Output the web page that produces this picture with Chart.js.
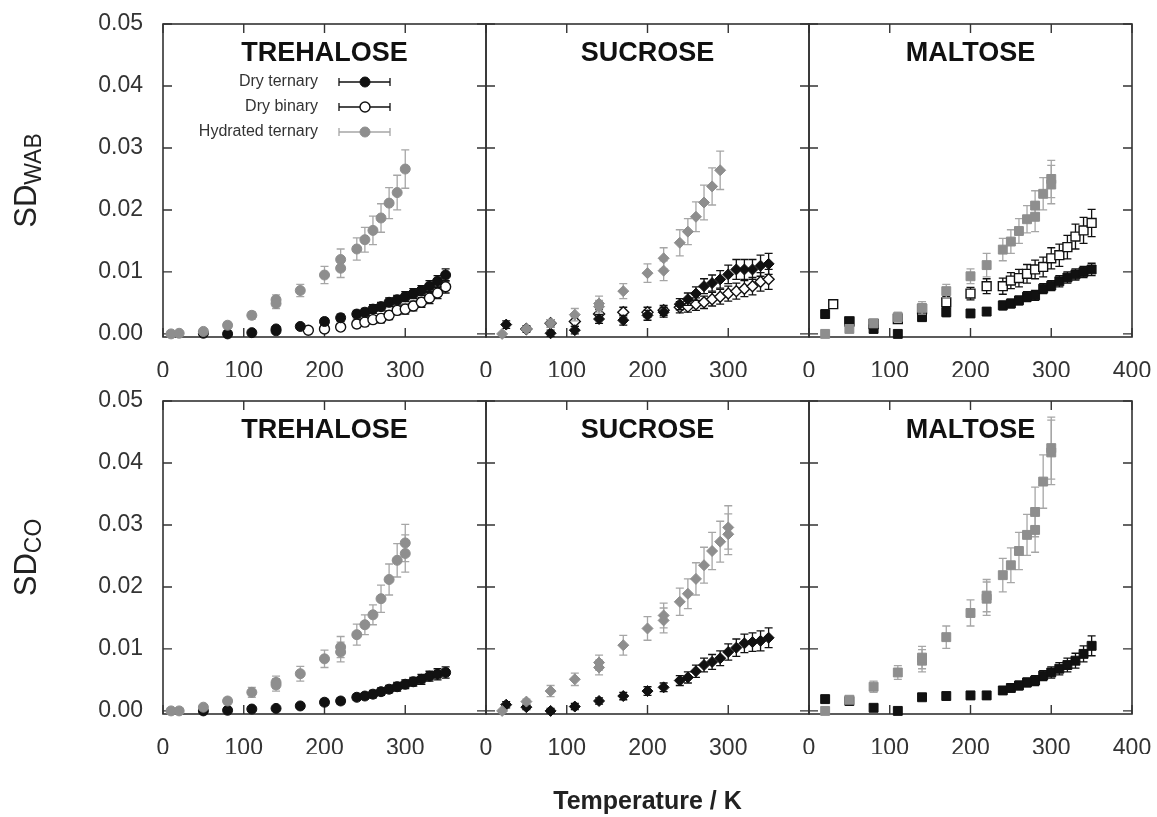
<!DOCTYPE html>
<html><head><meta charset="utf-8">
<script src="https://cdn.jsdelivr.net/npm/chart.js@4.4.1/dist/chart.umd.min.js"></script>
<style>
html,body{margin:0;padding:0;background:#fff;}
#wrap{position:relative;width:1157px;height:817px;overflow:hidden;background:#fff;}
#wrap canvas{position:absolute;left:0;top:0;}
</style></head><body>
<div id="wrap">
<canvas id="p0" width="1157" height="817"></canvas>
<canvas id="p1" width="1157" height="817"></canvas>
<canvas id="p2" width="1157" height="817"></canvas>
<canvas id="p3" width="1157" height="817"></canvas>
<canvas id="p4" width="1157" height="817"></canvas>
<canvas id="p5" width="1157" height="817"></canvas>
</div>
<script>
// ---------- tick values and labels ----------
const xTickValues = [0, 100, 200, 300, 400];
const yTickValues = [0, 0.01, 0.02, 0.03, 0.04, 0.05];
const sugarNames = ['TREHALOSE', 'SUCROSE', 'MALTOSE'];
const seriesNames = ['Dry ternary', 'Dry binary', 'Hydrated ternary'];
const rowTitles = [['SD', 'WAB'], ['SD', 'CO']];
const xAxisTitle = 'Temperature / K';

// ---------- SD_WAB, trehalose ----------
const tTreWabHyd = [10,20,50,80,110,140,140,170,200,220,220,240,250,260,270,280,290,300];
const treWabHyd = [0.0000,0.0001,0.0004,0.0014,0.0030,0.0055,0.0049,0.0070,0.0095,0.0120,0.0106,0.0137,0.0152,0.0167,0.0187,0.0211,0.0228,0.0266];
const treWabHydErr = [0.0002,0.0002,0.0004,0.0005,0.0006,0.0008,0.0008,0.0010,0.0014,0.0017,0.0015,0.0018,0.0020,0.0023,0.0023,0.0025,0.0028,0.0031];
const tTreWabDry = [50,80,110,140,140,170,200,220,240,250,260,270,280,290,300,310,320,330,340,350];
const treWabDry = [0.0001,0.0000,0.0002,0.0005,0.0008,0.0012,0.0020,0.0026,0.0032,0.0035,0.0040,0.0044,0.0051,0.0055,0.0060,0.0065,0.0070,0.0077,0.0085,0.0095];
const treWabDryErr = [0.0002,0.0002,0.0003,0.0004,0.0004,0.0004,0.0005,0.0006,0.0006,0.0006,0.0007,0.0007,0.0007,0.0007,0.0008,0.0008,0.0008,0.0009,0.0009,0.0010];
const tTreWabBin = [180,200,220,240,250,260,270,280,290,300,310,320,330,340,350];
const treWabBin = [0.0006,0.0008,0.0011,0.0016,0.0019,0.0023,0.0025,0.0030,0.0038,0.0040,0.0045,0.0051,0.0058,0.0066,0.0076];
const treWabBinErr = [0.0004,0.0005,0.0005,0.0006,0.0006,0.0006,0.0007,0.0007,0.0007,0.0008,0.0008,0.0008,0.0009,0.0009,0.0010];

// ---------- SD_WAB, sucrose ----------
const tSucWabHyd = [20,50,80,110,140,140,170,200,220,220,240,250,260,270,280,290];
const sucWabHyd = [0.0000,0.0008,0.0017,0.0031,0.0049,0.0044,0.0069,0.0098,0.0122,0.0102,0.0147,0.0165,0.0189,0.0212,0.0238,0.0264];
const sucWabHydErr = [0.0002,0.0004,0.0006,0.0010,0.0012,0.0010,0.0012,0.0015,0.0017,0.0016,0.0021,0.0021,0.0024,0.0028,0.0030,0.0031];
const tSucWabDry = [25,50,80,110,140,170,200,220,240,250,260,270,280,290,300,310,320,330,340,350];
const sucWabDry = [0.0015,0.0008,0.0001,0.0006,0.0024,0.0022,0.0030,0.0035,0.0048,0.0056,0.0065,0.0077,0.0082,0.0088,0.0096,0.0104,0.0104,0.0104,0.0110,0.0113];
const sucWabDryErr = [0.0006,0.0005,0.0005,0.0006,0.0007,0.0008,0.0008,0.0008,0.0009,0.0010,0.0011,0.0012,0.0013,0.0014,0.0015,0.0016,0.0016,0.0016,0.0017,0.0017];
const tSucWabBin = [50,80,110,140,170,200,220,240,250,260,270,280,290,300,310,320,330,340,350];
const sucWabBin = [0.0008,0.0017,0.0020,0.0032,0.0035,0.0035,0.0038,0.0043,0.0044,0.0048,0.0051,0.0056,0.0060,0.0065,0.0069,0.0073,0.0077,0.0084,0.0088];
const sucWabBinErr = [0.0004,0.0006,0.0008,0.0008,0.0008,0.0008,0.0008,0.0009,0.0009,0.0010,0.0010,0.0011,0.0012,0.0012,0.0013,0.0013,0.0014,0.0015,0.0016];

// ---------- SD_WAB, maltose ----------
const tMalWabHyd = [20,50,80,110,140,170,200,220,240,250,260,270,280,280,290,300,300];
const malWabHyd = [0.0000,0.0008,0.0017,0.0027,0.0042,0.0069,0.0093,0.0111,0.0136,0.0149,0.0166,0.0185,0.0189,0.0207,0.0226,0.0241,0.0250];
const malWabHydErr = [0.0002,0.0004,0.0006,0.0008,0.0010,0.0011,0.0012,0.0019,0.0018,0.0019,0.0020,0.0022,0.0024,0.0024,0.0026,0.0031,0.0030];
const tMalWabDry = [20,50,80,110,140,170,200,220,240,250,260,270,280,290,300,310,320,330,340,350];
const malWabDry = [0.0032,0.0020,0.0008,0.0000,0.0027,0.0035,0.0033,0.0036,0.0046,0.0049,0.0054,0.0060,0.0062,0.0073,0.0078,0.0085,0.0091,0.0096,0.0100,0.0104];
const malWabDryErr = [0.0006,0.0006,0.0006,0.0005,0.0006,0.0007,0.0006,0.0006,0.0007,0.0007,0.0007,0.0008,0.0008,0.0008,0.0008,0.0009,0.0009,0.0009,0.0009,0.0010];
const tMalWabBin = [30,50,80,110,140,170,200,220,240,250,260,270,280,290,300,310,320,330,340,350];
const malWabBin = [0.0048,0.0020,0.0016,0.0024,0.0040,0.0051,0.0065,0.0077,0.0077,0.0086,0.0090,0.0097,0.0104,0.0108,0.0122,0.0127,0.0140,0.0157,0.0167,0.0179];
const malWabBinErr = [0.0005,0.0006,0.0006,0.0007,0.0008,0.0009,0.0010,0.0012,0.0013,0.0013,0.0014,0.0015,0.0015,0.0016,0.0017,0.0018,0.0019,0.0020,0.0021,0.0022];

// ---------- SD_CO, trehalose ----------
const tTreCoHyd = [10,20,50,80,110,140,140,170,200,220,220,240,250,260,270,280,290,300,300];
const treCoHyd = [0.0000,0.0000,0.0006,0.0016,0.0030,0.0046,0.0042,0.0060,0.0084,0.0103,0.0095,0.0123,0.0139,0.0155,0.0181,0.0212,0.0243,0.0271,0.0254];
const treCoHydErr = [0.0002,0.0002,0.0004,0.0005,0.0008,0.0010,0.0010,0.0012,0.0014,0.0017,0.0016,0.0017,0.0016,0.0016,0.0022,0.0025,0.0027,0.0030,0.0030];
const tTreCoDry = [50,80,110,140,170,200,220,240,250,260,270,280,290,300,310,320,330,340,350];
const treCoDry = [0.0000,0.0001,0.0003,0.0004,0.0008,0.0014,0.0016,0.0022,0.0024,0.0027,0.0031,0.0035,0.0039,0.0043,0.0047,0.0051,0.0056,0.0059,0.0062];
const treCoDryErr = [0.0002,0.0002,0.0003,0.0003,0.0004,0.0005,0.0005,0.0005,0.0005,0.0006,0.0006,0.0006,0.0007,0.0007,0.0007,0.0008,0.0008,0.0009,0.0009];

// ---------- SD_CO, sucrose ----------
const tSucCoHyd = [20,50,80,110,140,140,170,200,220,220,240,250,260,270,280,290,300,300];
const sucCoHyd = [0.0000,0.0015,0.0032,0.0051,0.0070,0.0078,0.0106,0.0133,0.0146,0.0154,0.0176,0.0189,0.0213,0.0235,0.0258,0.0273,0.0285,0.0296];
const sucCoHydErr = [0.0002,0.0004,0.0009,0.0010,0.0012,0.0012,0.0016,0.0019,0.0020,0.0020,0.0022,0.0024,0.0026,0.0029,0.0030,0.0033,0.0033,0.0035];
const tSucCoDry = [25,50,80,110,140,170,200,220,240,250,260,270,280,290,300,310,320,330,340,350];
const sucCoDry = [0.0010,0.0006,0.0000,0.0007,0.0016,0.0024,0.0032,0.0038,0.0049,0.0054,0.0064,0.0074,0.0079,0.0085,0.0095,0.0102,0.0109,0.0111,0.0113,0.0118];
const sucCoDryErr = [0.0005,0.0004,0.0004,0.0005,0.0005,0.0006,0.0007,0.0007,0.0008,0.0009,0.0010,0.0011,0.0012,0.0012,0.0013,0.0014,0.0015,0.0015,0.0016,0.0016];

// ---------- SD_CO, maltose ----------
const tMalCoHyd = [20,50,80,110,140,140,170,200,220,220,240,250,260,270,280,280,290,300,300];
const malCoHyd = [0.0000,0.0018,0.0039,0.0062,0.0081,0.0086,0.0119,0.0158,0.0181,0.0186,0.0219,0.0235,0.0258,0.0284,0.0292,0.0321,0.0370,0.0417,0.0424];
const malCoHydErr = [0.0002,0.0005,0.0009,0.0011,0.0018,0.0018,0.0018,0.0021,0.0027,0.0026,0.0027,0.0028,0.0030,0.0033,0.0036,0.0040,0.0043,0.0052,0.0050];
const tMalCoDry = [20,50,80,110,140,170,200,220,240,250,260,270,280,290,300,310,320,330,340,350];
const malCoDry = [0.0019,0.0016,0.0005,0.0000,0.0022,0.0024,0.0025,0.0025,0.0033,0.0037,0.0041,0.0046,0.0049,0.0057,0.0062,0.0068,0.0074,0.0081,0.0092,0.0105];
const malCoDryErr = [0.0005,0.0004,0.0005,0.0004,0.0005,0.0005,0.0006,0.0006,0.0006,0.0006,0.0007,0.0007,0.0008,0.0008,0.0009,0.0010,0.0011,0.0012,0.0013,0.0016];

// ---------- layout / styles ----------
const FONT = '"Liberation Sans", Arial, Helvetica, sans-serif';
Chart.defaults.font.family = FONT;
const COLS = [163, 486, 809, 1132];
const ROWS = [[24, 337], [401, 714]];
const W = 1157, H = 817;
const MARK = [
  { pointStyle: 'circle', radius: 5 },
  { pointStyle: 'rectRot', radius: 5.5 },
  { pointStyle: 'rect', radius: 6.3 }
];
const STY = {
  dry: { fill: '#111111', stroke: '#111111', err: '#111111', bw: 1 },
  bin: { fill: '#ffffff', stroke: '#111111', err: '#111111', bw: 1.4 },
  hyd: { fill: '#8e8e8e', stroke: '#8e8e8e', err: '#a6a6a6', bw: 1 }
};

function makeSet(label, kind, col, ts, vs, es) {
  const s = STY[kind];
  return {
    label: label,
    data: ts.map((t, i) => ({ x: t, y: vs[i] })),
    errors: es,
    errColor: s.err,
    pointStyle: MARK[col].pointStyle,
    pointRadius: MARK[col].radius,
    pointBackgroundColor: s.fill,
    pointBorderColor: s.stroke,
    pointBorderWidth: s.bw,
    showLine: false,
    clip: false
  };
}

function noPad(s) {
  s.paddingLeft = 0; s.paddingRight = 0; s.paddingTop = 0; s.paddingBottom = 0;
}

const errPlugin = {
  id: 'errbars',
  beforeDatasetDraw(chart, args) {
    const ds = chart.data.datasets[args.index];
    if (!ds.errors) return;
    const ys = chart.scales.y, ctx = chart.ctx, a = chart.chartArea;
    ctx.save();
    ctx.beginPath();
    ctx.rect(a.left - 10, a.top, a.right - a.left + 20, a.bottom - a.top);
    ctx.clip();
    ctx.strokeStyle = ds.errColor;
    ctx.lineWidth = 1.3;
    const c = 4;
    args.meta.data.forEach((pt, i) => {
      const v = ds.data[i].y, e = ds.errors[i];
      const y1 = ys.getPixelForValue(v + e), y2 = ys.getPixelForValue(v - e);
      const x = pt.x;
      ctx.beginPath();
      ctx.moveTo(x, y1); ctx.lineTo(x, y2);
      ctx.moveTo(x - c, y1); ctx.lineTo(x + c, y1);
      ctx.moveTo(x - c, y2); ctx.lineTo(x + c, y2);
      ctx.stroke();
    });
    ctx.restore();
  }
};

const framePlugin = {
  id: 'frame',
  beforeDatasetsDraw(chart) {
    const { ctx, chartArea: a } = chart;
    const xs = chart.scales.x, ys = chart.scales.y;
    ctx.save();
    ctx.strokeStyle = '#333333';
    ctx.lineWidth = 1.6;
    ctx.strokeRect(a.left, a.top, a.right - a.left, a.bottom - a.top);
    const tl = 9;
    ctx.lineWidth = 1.4;
    ctx.beginPath();
    xs.ticks.forEach(t => {
      const px = xs.getPixelForValue(t.value);
      ctx.moveTo(px, a.bottom); ctx.lineTo(px, a.bottom - tl);
      ctx.moveTo(px, a.top); ctx.lineTo(px, a.top + tl);
    });
    ys.ticks.forEach(t => {
      const py = ys.getPixelForValue(t.value);
      ctx.moveTo(a.left, py); ctx.lineTo(a.left + tl, py);
      ctx.moveTo(a.right, py); ctx.lineTo(a.right - tl, py);
    });
    ctx.stroke();
    ctx.restore();
  }
};

const textPlugin = {
  id: 'paneltext',
  afterDraw(chart, args, opts) {
    const { ctx, chartArea: a } = chart;
    ctx.save();
    // panel title
    ctx.fillStyle = '#111111';
    ctx.font = 'bold 27px ' + FONT;
    ctx.textAlign = 'center';
    ctx.textBaseline = 'middle';
    ctx.fillText(opts.title, (a.left + a.right) / 2, a.top + 30);
    // row title with subscript
    if (opts.rowTitle) {
      const cy = (a.top + a.bottom) / 2;
      const bx = a.left - 127;
      ctx.translate(bx, cy);
      ctx.rotate(-Math.PI / 2);
      ctx.textAlign = 'left';
      ctx.textBaseline = 'alphabetic';
      ctx.fillStyle = '#222222';
      ctx.font = '31px ' + FONT;
      const w1 = ctx.measureText(opts.rowTitle[0]).width;
      ctx.font = '23px ' + FONT;
      const w2 = ctx.measureText(opts.rowTitle[1]).width;
      const s = -(w1 + w2) / 2;
      ctx.font = '31px ' + FONT;
      ctx.fillText(opts.rowTitle[0], s, 0);
      ctx.font = '23px ' + FONT;
      ctx.fillText(opts.rowTitle[1], s + w1, 5);
      ctx.setTransform(1, 0, 0, 1, 0, 0);
    }
    // legend
    if (opts.legend) {
      const items = chart.data.datasets;
      const order = [1, 2, 0];
      order.forEach((di, row) => {
        const ds = items[di];
        const y = a.top + 58 + row * 25;
        ctx.fillStyle = '#333333';
        ctx.font = '16px ' + FONT;
        ctx.textAlign = 'right';
        ctx.textBaseline = 'middle';
        ctx.fillText(ds.label, a.left + 155, y);
        const x1 = a.left + 176, x2 = a.left + 227, xm = a.left + 202;
        ctx.strokeStyle = ds.errColor;
        ctx.lineWidth = 1.3;
        ctx.beginPath();
        ctx.moveTo(x1, y); ctx.lineTo(x2, y);
        ctx.moveTo(x1, y - 4); ctx.lineTo(x1, y + 4);
        ctx.moveTo(x2, y - 4); ctx.lineTo(x2, y + 4);
        ctx.stroke();
        ctx.fillStyle = ds.pointBackgroundColor;
        ctx.strokeStyle = ds.pointBorderColor;
        ctx.lineWidth = ds.pointBorderWidth;
        Chart.helpers.drawPoint(ctx, { pointStyle: 'circle', radius: 5, rotation: 0, borderWidth: ds.pointBorderWidth }, xm, y);
      });
    }
    ctx.restore();
  }
};

function panel(idx, col, row, datasets) {
  const L = COLS[col], R = COLS[col + 1], T = ROWS[row][0], B = ROWS[row][1];
  const yLab = col === 0;
  const yW = yLab ? 80 : 0;
  const isMid = row === 1 && col === 1;
  const xH = isMid ? 103 : 40;
  return new Chart(document.getElementById('p' + idx), {
    type: 'scatter',
    data: { datasets: datasets },
    plugins: [framePlugin, errPlugin, textPlugin],
    options: {
      responsive: false,
      animation: false,
      devicePixelRatio: 1,
      layout: {
        autoPadding: false,
        padding: { left: L - yW, right: W - R, top: T, bottom: H - B - xH }
      },
      scales: {
        x: {
          type: 'linear', min: 0, max: 400,
          afterBuildTicks: s => { s.ticks = xTickValues.map(v => ({ value: v })); },
          afterFit: s => { s.height = xH; noPad(s); },
          grid: { display: false, drawTicks: false },
          border: { display: false },
          ticks: {
            padding: 21,
            color: '#333333',
            font: { size: 23 },
            maxRotation: 0,
            autoSkip: false,
            callback: v => (v === 400 && col < 2) ? '' : String(v)
          },
          title: {
            display: isMid,
            text: xAxisTitle,
            color: '#222222',
            font: { size: 25, weight: 'bold' },
            padding: { top: 0, bottom: 0 }
          }
        },
        y: {
          type: 'linear', min: -0.0005, max: 0.05,
          afterBuildTicks: s => { s.ticks = yTickValues.map(v => ({ value: v })); },
          afterFit: s => { s.width = yW; noPad(s); },
          grid: { display: false, drawTicks: false },
          border: { display: false },
          ticks: {
            display: yLab,
            padding: 20,
            color: '#333333',
            font: { size: 23 },
            callback: v => v.toFixed(2)
          }
        }
      },
      plugins: {
        legend: { display: false },
        tooltip: { enabled: false },
        paneltext: {
          title: sugarNames[col],
          rowTitle: yLab ? rowTitles[row] : null,
          legend: row === 0 && col === 0
        }
      }
    }
  });
}

panel(0, 0, 0, [
  makeSet(seriesNames[2], 'hyd', 0, tTreWabHyd, treWabHyd, treWabHydErr),
  makeSet(seriesNames[0], 'dry', 0, tTreWabDry, treWabDry, treWabDryErr),
  makeSet(seriesNames[1], 'bin', 0, tTreWabBin, treWabBin, treWabBinErr)
]);
panel(1, 1, 0, [
  makeSet(seriesNames[2], 'hyd', 1, tSucWabHyd, sucWabHyd, sucWabHydErr),
  makeSet(seriesNames[0], 'dry', 1, tSucWabDry, sucWabDry, sucWabDryErr),
  makeSet(seriesNames[1], 'bin', 1, tSucWabBin, sucWabBin, sucWabBinErr)
]);
panel(2, 2, 0, [
  makeSet(seriesNames[2], 'hyd', 2, tMalWabHyd, malWabHyd, malWabHydErr),
  makeSet(seriesNames[0], 'dry', 2, tMalWabDry, malWabDry, malWabDryErr),
  makeSet(seriesNames[1], 'bin', 2, tMalWabBin, malWabBin, malWabBinErr)
]);
panel(3, 0, 1, [
  makeSet(seriesNames[2], 'hyd', 0, tTreCoHyd, treCoHyd, treCoHydErr),
  makeSet(seriesNames[0], 'dry', 0, tTreCoDry, treCoDry, treCoDryErr)
]);
panel(4, 1, 1, [
  makeSet(seriesNames[2], 'hyd', 1, tSucCoHyd, sucCoHyd, sucCoHydErr),
  makeSet(seriesNames[0], 'dry', 1, tSucCoDry, sucCoDry, sucCoDryErr)
]);
panel(5, 2, 1, [
  makeSet(seriesNames[2], 'hyd', 2, tMalCoHyd, malCoHyd, malCoHydErr),
  makeSet(seriesNames[0], 'dry', 2, tMalCoDry, malCoDry, malCoDryErr)
]);
</script>
</body></html>
